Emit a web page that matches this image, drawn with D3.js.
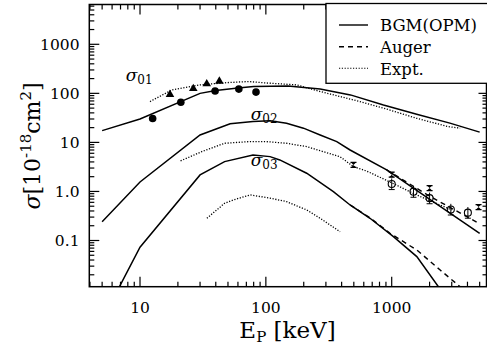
<!DOCTYPE html>
<html><head><meta charset="utf-8">
<script src="https://d3js.org/d3.v7.min.js"></script>
<style>body{margin:0;background:#fff;} svg{display:block;}</style>
</head><body>
<script>
// ---- data ----
const s01BgmE = [5, 10, 30, 40, 60, 80, 150, 270, 470, 860, 1580, 2900, 5000];
const s01Bgm  = [17.4, 30, 100, 114, 128, 138, 142, 122, 93, 58, 37.6, 24.7, 16.2];
const s01ExpE = [12, 18, 30, 50, 73, 100, 175, 270, 560, 860, 1580, 2800, 3500];
const s01Exp  = [68, 118, 149, 166, 174, 163, 149, 109, 68, 50, 31, 21, 19.5];
const s02BgmE = [5, 10, 30, 52, 79, 108, 146, 199, 270, 366, 467, 912, 5000];
const s02Bgm  = [0.242, 1.56, 14.2, 23.9, 26.6, 27.5, 24.6, 19.5, 14.2, 10.4, 7.0, 2.75, 0.14];
const s02AugE = [912, 2000, 5000];
const s02Aug  = [2.75, 0.8, 0.22];
const s02ExpE = [21, 31, 47, 75, 100, 146, 211, 389, 497, 633, 1000, 1500, 2000, 3000];
const s02Exp  = [4.2, 6.5, 9.6, 10.4, 10.4, 9.6, 8.2, 5.1, 3.2, 2.6, 1.5, 0.9, 0.65, 0.42];
const s03BgmE = [5, 10, 30, 47, 79, 108, 129, 211, 344, 467, 672, 1032, 1583, 2350, 5000];
const s03Bgm  = [0.0024, 0.073, 2.17, 4.06, 5.56, 5.13, 4.39, 2.35, 0.99, 0.53, 0.284, 0.12, 0.047, 0.0114, 0.0008];
const s03AugE = [467, 672, 970, 1583, 2427, 3500, 5000];
const s03Aug  = [0.53, 0.29, 0.14, 0.064, 0.025, 0.0114, 0.005];
const s03ExpE = [34, 47, 55, 75, 108, 146, 211, 270, 389];
const s03Exp  = [0.284, 0.574, 0.67, 0.85, 0.73, 0.62, 0.42, 0.284, 0.151];
const ptCircE = [12.6, 21.1, 39.5, 61, 83.5];
const ptCirc  = [30.6, 66, 112, 122, 106];
const ptTriE  = [17.3, 26.5, 33.9, 42.7];
const ptTri   = [94.5, 125, 156, 177];
const ptOpenE = [1000, 1490, 2000, 2950, 4030];
const ptOpen  = [1.42, 0.99, 0.73, 0.43, 0.37];
const ptSqE   = [497, 1000, 2000, 4900];
const ptSq    = [3.47, 2.2, 1.17, 0.48];
const xTickLabels = ["10", "100", "1000"];
const yTickLabels = ["0.1", "1.0", "10", "100", "1000"];
const legendLabels = ["BGM(OPM)", "Auger", "Expt."];

// ---- layout ----
const W = 487, H = 349;
const L = 89.3, R = 486.5, T = 4.5, B = 286.7;
const FONT = "'DejaVu Serif', serif";
const svg = d3.select("body").append("svg").attr("width", W).attr("height", H);
const x = d3.scaleLog().domain([3.954, 5666]).range([L, R]);
const y = d3.scaleLog().domain([0.01143, 6478]).range([B, T]);

svg.append("clipPath").attr("id", "clip").append("rect")
  .attr("x", L).attr("y", T).attr("width", R - L).attr("height", B - T);

const g = svg.append("g").attr("clip-path", "url(#clip)");
const line = d3.line().x(d => x(d[0])).y(d => y(d[1]));
function curve(E, S, dash, w) {
  g.append("path").datum(E.map((e, i) => [e, S[i]]))
    .attr("d", line).attr("fill", "none").attr("stroke", "#000")
    .attr("stroke-width", w).attr("stroke-dasharray", dash);
}
const DOT = "1.2,1.6", DASH = "5,4";
curve(s01BgmE, s01Bgm, null, 1.5);
curve(s02BgmE, s02Bgm, null, 1.5);
curve(s03BgmE, s03Bgm, null, 1.5);
curve(s02AugE, s02Aug, DASH, 1.4);
curve(s03AugE, s03Aug, DASH, 1.4);
curve(s01ExpE, s01Exp, DOT, 1.3);
curve(s02ExpE, s02Exp, DOT, 1.3);
curve(s03ExpE, s03Exp, DOT, 1.3);

// markers
g.selectAll(".pc").data(ptCircE.map((e, i) => [e, ptCirc[i]])).enter().append("circle")
  .attr("cx", d => x(d[0])).attr("cy", d => y(d[1])).attr("r", 3.8).attr("fill", "#000");
g.selectAll(".pt").data(ptTriE.map((e, i) => [e, ptTri[i]])).enter().append("path")
  .attr("d", d3.symbol().type(d3.symbolTriangle).size(32))
  .attr("transform", d => `translate(${x(d[0])},${y(d[1])})`).attr("fill", "#000");
const errF = 1.3;
const op = g.selectAll(".po").data(ptOpenE.map((e, i) => [e, ptOpen[i]])).enter().append("g");
op.append("line").attr("x1", d => x(d[0])).attr("x2", d => x(d[0]))
  .attr("y1", d => y(d[1] * errF)).attr("y2", d => y(d[1] / errF)).attr("stroke", "#000").attr("stroke-width", 1);
op.append("line").attr("x1", d => x(d[0]) - 3).attr("x2", d => x(d[0]) + 3)
  .attr("y1", d => y(d[1] / errF)).attr("y2", d => y(d[1] / errF)).attr("stroke", "#000").attr("stroke-width", 1);
op.append("circle").attr("cx", d => x(d[0])).attr("cy", d => y(d[1])).attr("r", 3.5)
  .attr("fill", "none").attr("stroke", "#000").attr("stroke-width", 1.1);
const sq = g.selectAll(".ps").data(ptSqE.map((e, i) => [e, ptSq[i]])).enter().append("g");
sq.append("line").attr("x1", d => x(d[0]) - 3).attr("x2", d => x(d[0]) + 3)
  .attr("y1", d => y(d[1]) - 2.5).attr("y2", d => y(d[1]) - 2.5).attr("stroke", "#000").attr("stroke-width", 1.2);
sq.append("line").attr("x1", d => x(d[0]) - 3).attr("x2", d => x(d[0]) + 3)
  .attr("y1", d => y(d[1]) + 2.5).attr("y2", d => y(d[1]) + 2.5).attr("stroke", "#000").attr("stroke-width", 1.2);
sq.append("path").attr("d", d => { const cx = x(d[0]), cy = y(d[1]);
    return `M${cx-2.5},${cy-2.5}L${cx+2.5},${cy-2.5}L${cx-2.5},${cy+2.5}L${cx+2.5},${cy+2.5}Z`; })
  .attr("fill", "#000");

// ---- axes ----
function minorVals(scale) {
  const [a, b] = scale.domain(); const out = [];
  for (let p = Math.floor(Math.log10(a)); p <= Math.ceil(Math.log10(b)); p++)
    for (let m = 1; m <= 9; m++) { const v = m * Math.pow(10, p); if (v >= a && v <= b) out.push(v); }
  return out;
}
const isMajor = v => Math.abs(Math.log10(v) - Math.round(Math.log10(v))) < 1e-9;
const ax = svg.append("g").attr("stroke", "#000").attr("stroke-width", 1.2);
minorVals(x).forEach(v => {
  const len = isMajor(v) ? 10 : 5, px = x(v);
  ax.append("line").attr("x1", px).attr("x2", px).attr("y1", B).attr("y2", B - len);
  if (px < 326) ax.append("line").attr("x1", px).attr("x2", px).attr("y1", T).attr("y2", T + len);
});
minorVals(y).forEach(v => {
  const len = isMajor(v) ? 10 : 5, py = y(v);
  ax.append("line").attr("x1", L).attr("x2", L + len).attr("y1", py).attr("y2", py);
  if (py > 84) ax.append("line").attr("x1", R).attr("x2", R - len * 0.8).attr("y1", py).attr("y2", py);
});
svg.append("rect").attr("x", L).attr("y", T).attr("width", R - L).attr("height", B - T)
  .attr("fill", "none").attr("stroke", "#000").attr("stroke-width", 1.5);

// tick labels
svg.append("g").selectAll("text").data(xTickLabels).enter().append("text")
  .attr("x", d => x(+d)).attr("y", 312.7).attr("text-anchor", "middle")
  .attr("font-family", FONT).attr("font-size", 15.5).text(d => d);
svg.append("g").selectAll("text").data(yTickLabels).enter().append("text")
  .attr("x", 79.5).attr("y", d => y(+d) + 5.7).attr("text-anchor", "end")
  .attr("font-family", FONT).attr("font-size", 15.5).text(d => d);

// axis titles
const xt = svg.append("text").attr("x", 287.5).attr("y", 338.3).attr("text-anchor", "middle")
  .attr("font-family", FONT).attr("font-size", 23);
xt.append("tspan").text("E");
xt.append("tspan").attr("font-size", 15).attr("dy", 3.5).text("P");
xt.append("tspan").attr("dy", -3.5).text(" [keV]");
const yt = svg.append("text").attr("transform", "translate(40,146) rotate(-90)").attr("text-anchor", "middle")
  .attr("font-family", FONT).attr("font-size", 22);
yt.append("tspan").attr("font-style", "italic").text("σ");
yt.append("tspan").text("[10");
yt.append("tspan").attr("font-size", 15).attr("dy", -9).text("-18");
yt.append("tspan").attr("dy", 9).text("cm");
yt.append("tspan").attr("font-size", 15).attr("dy", -9).text("2");
yt.append("tspan").attr("dy", 9).text("]");

// sigma labels
function sig(px, py, sub) {
  const t = svg.append("text").attr("x", px).attr("y", py).attr("font-family", FONT).attr("font-size", 17);
  t.append("tspan").attr("font-style", "italic").text("σ");
  t.append("tspan").attr("font-size", 12).attr("dy", 3).text(sub);
}
sig(125.7, 80.5, "01");
sig(250.7, 120, "02");
sig(250.7, 166, "03");

// legend
svg.append("rect").attr("x", 326).attr("y", 3.5).attr("width", 170).attr("height", 79.8)
  .attr("fill", "#fff").attr("stroke", "#000").attr("stroke-width", 1.3);
const ly = [25, 46.7, 68.3], dashes = [null, DASH, DOT];
legendLabels.forEach((lab, i) => {
  svg.append("line").attr("x1", 339).attr("x2", 368).attr("y1", ly[i]).attr("y2", ly[i])
    .attr("stroke", "#000").attr("stroke-width", i === 2 ? 1.1 : 1.4).attr("stroke-dasharray", dashes[i]);
  svg.append("text").attr("x", 380).attr("y", [31, 53.3, 75][i]).attr("font-family", FONT)
    .attr("font-size", 16.5).text(lab);
});
</script>
</body></html>
